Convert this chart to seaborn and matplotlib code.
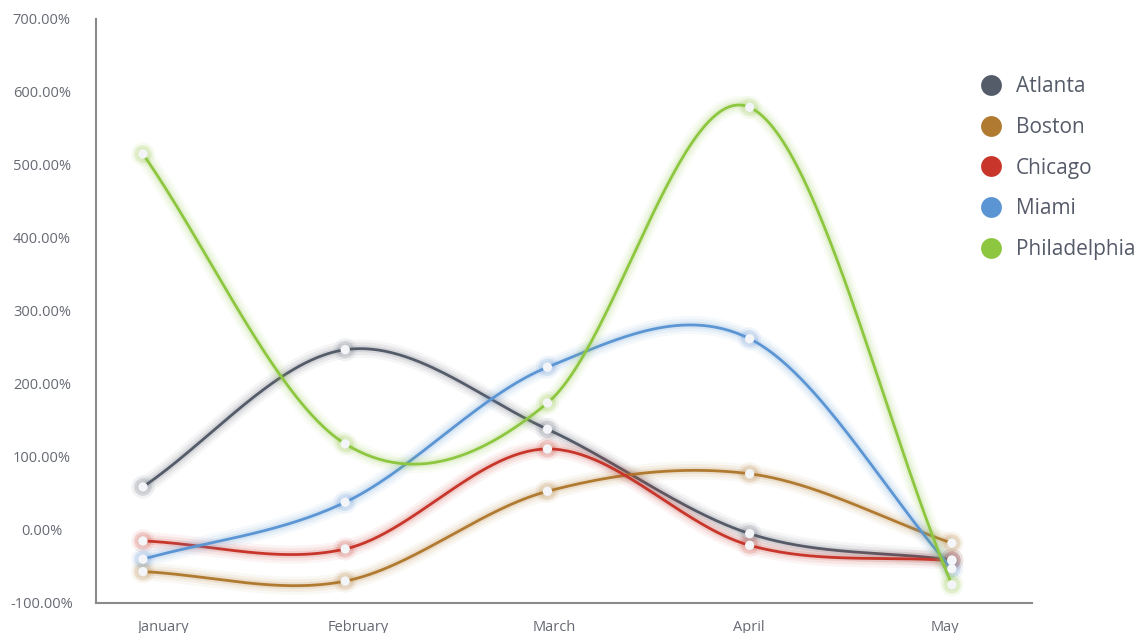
import numpy as np
import pandas as pd
import seaborn as sns
import matplotlib.pyplot as plt
from matplotlib.lines import Line2D
from matplotlib.ticker import FuncFormatter

# datos
months = ["January", "February", "March", "April", "May"]
cities = ["Atlanta", "Boston", "Chicago", "Miami", "Philadelphia"]
atlanta = [59, 247, 138, -5, -41]
boston = [-57, -70, 53, 77, -18]
chicago = [-15, -26, 111, -21, -42]
miami = [-40, 38, 223, 262, -53]
philadelphia = [515, 118, 174, 579, -75]
colors = ["#545b69", "#b07a30", "#c8352a", "#5b95d3", "#8dc63f"]

series = dict(zip(cities, [atlanta, boston, chicago, miami, philadelphia]))


def suavizar(vals, n=60):
    # curva catmull-rom entre los puntos
    y = np.array(vals, dtype=float)
    m = np.empty_like(y)
    m[1:-1] = (y[2:] - y[:-2]) / 2
    m[0] = y[1] - y[0]
    m[-1] = y[-1] - y[-2]
    xs, ys = [], []
    for i in range(len(y) - 1):
        t = np.linspace(0, 1, n, endpoint=False)
        h00 = 2 * t**3 - 3 * t**2 + 1
        h10 = t**3 - 2 * t**2 + t
        h01 = -2 * t**3 + 3 * t**2
        h11 = t**3 - t**2
        ys.append(h00 * y[i] + h10 * m[i] + h01 * y[i + 1] + h11 * m[i + 1])
        xs.append(i + t)
    xs.append([len(y) - 1])
    ys.append([y[-1]])
    return np.concatenate(xs), np.concatenate(ys)


curvas = []
puntos = []
for c in cities:
    xs, ys = suavizar(series[c])
    curvas.append(pd.DataFrame({"x": xs, "y": ys, "city": c}))
    puntos.append(pd.DataFrame({"x": np.arange(len(months)), "y": series[c], "city": c}))
curvas = pd.concat(curvas, ignore_index=True)
puntos = pd.concat(puntos, ignore_index=True)

sns.set_style("white")
plt.rcParams["font.family"] = ["Open Sans", "DejaVu Sans"]

fig = plt.figure(figsize=(11.46, 6.33), dpi=100)
ax = fig.add_axes([0.0838, 0.0474, 0.8167, 0.9226])

pal = dict(zip(cities, colors))
for c in cities:
    d = curvas[curvas.city == c]
    p = puntos[puntos.city == c]
    # brillo
    for lw, a in [(13, 0.05), (9, 0.08), (5, 0.13)]:
        sns.lineplot(data=d, x="x", y="y", color=pal[c], linewidth=lw, alpha=a,
                     sort=False, ax=ax, legend=False, solid_capstyle="round")
    sns.lineplot(data=d, x="x", y="y", color=pal[c], linewidth=2, sort=False,
                 ax=ax, legend=False)
    for s, a in [(280, 0.08), (160, 0.15)]:
        sns.scatterplot(data=p, x="x", y="y", color=pal[c], s=s, alpha=a,
                        edgecolor="none", ax=ax, legend=False)
    sns.scatterplot(data=p, x="x", y="y", color="#f3f5f8", s=45,
                    edgecolor="none", ax=ax, legend=False, zorder=5)

ax.set_xlim(-0.232, 4.396)
ax.set_ylim(-100, 700)
# las etiquetas del eje x no caen justo bajo los puntos en el original
ax.set_xticks([0.1 + 0.966 * i for i in range(len(months))])
ax.set_xticklabels(months)
ax.set_yticks(range(-100, 701, 100))
ax.yaxis.set_major_formatter(FuncFormatter(lambda v, _: f"{v:.2f}%"))
ax.set_xlabel("")
ax.set_ylabel("")
ax.tick_params(axis="both", length=0, labelsize=10.5, labelcolor="#666a73")
ax.tick_params(axis="x", pad=12)
ax.tick_params(axis="y", pad=39)
for lab in ax.get_yticklabels():
    lab.set_horizontalalignment("center")
ax.spines["top"].set_visible(False)
ax.spines["right"].set_visible(False)
for s in ["left", "bottom"]:
    ax.spines[s].set_color("#8a8a8a")
    ax.spines[s].set_linewidth(1.5)

handles = [Line2D([], [], marker="o", linestyle="none", markersize=15,
                  markerfacecolor=col, markeredgecolor="none") for col in colors]
fig.legend(handles, cities, loc="upper left", bbox_to_anchor=(0.839, 0.893),
           frameon=False, fontsize=15, labelcolor="#555b68", handletextpad=0.2,
           labelspacing=0.95, borderaxespad=0)

fig.savefig("out.png", dpi=100)
